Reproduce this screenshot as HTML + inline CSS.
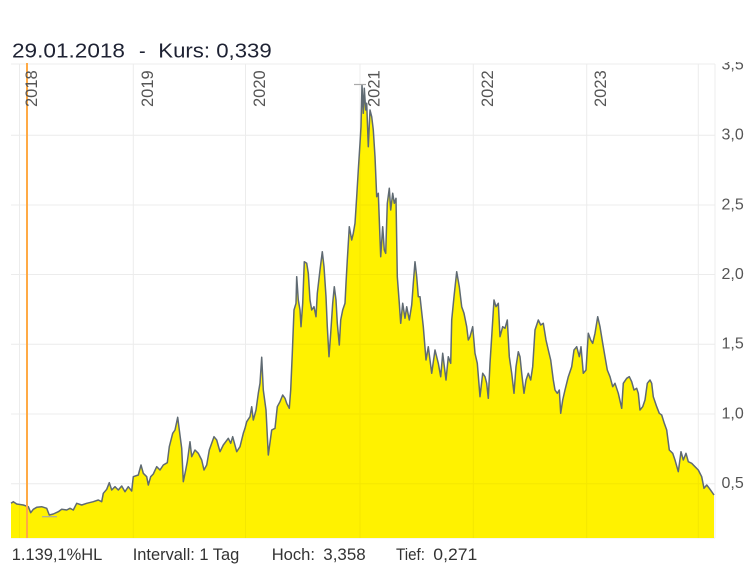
<!DOCTYPE html>
<html><head><meta charset="utf-8"><style>
html,body{margin:0;padding:0;background:#fff;}
svg{display:block;}
text{font-family:"Liberation Sans",sans-serif;}
</style></head><body>
<svg width="753" height="576" viewBox="0 0 753 576" xmlns="http://www.w3.org/2000/svg">
<defs>
<clipPath id="ylc"><rect x="700" y="62" width="53" height="500"/></clipPath>
<clipPath id="fillc"><path id="fp" d="M11,538 L11,503.3 13.3,501.7 16.7,504 23.3,505 28.3,506.7 30.7,512.7 33.3,509.3 36.7,507.3 41.7,506.7 46.7,508.3 49.3,515 53.3,514 58.3,511.7 61.7,509.3 66.7,510 70,508.3 73.3,510 76.7,503.3 81.7,505 86.7,503.3 93.3,501.7 98.3,500 101.7,501.7 103.3,493.3 106.7,489.3 109.3,482.7 111.7,490 115,486.7 118.3,490 121.7,486 125,491.7 128.3,486.7 131.7,491 133.3,476.7 138.3,475 141,465 143.3,473.3 146.7,476.7 148.3,485 150.7,476.7 153.3,474 156.7,466.7 160,470 163.3,465 167.3,462.7 169.3,446.7 172.7,433.3 175,430 177.7,417.3 179.3,430 181.7,448.3 183.3,481.7 185.7,470 187.3,461.7 190,441.7 191.7,456.7 195,450 198.3,453.3 201.7,460 204,470 206.7,465 209.3,450 214,436.7 216.7,440 220,451.7 223.3,445 228.3,438.3 230.7,443.3 232.7,436.7 236.7,451.7 240,446.7 243.3,433.3 245,428.3 246.7,421.7 250,416.7 251.7,406.7 253.3,420 256,410 258.3,393.3 260,383.3 261.7,357.3 263.3,390 266,410 268.3,455 271.7,430 275,428.3 277.3,406.7 280,401.7 282.7,395 285,398.3 286.7,403.3 289.3,408.3 290.7,390 292.3,353.3 294,310 296,303.3 296.7,276.7 298.3,300 300,310 301,326.7 302.7,303.3 304.3,261.7 306.7,263.3 308.3,273.3 310,300 311.7,310 314,306.7 316,316.7 317.3,293.3 320,270 322.3,251.7 324,266.7 326,296.7 327.3,326.7 329,356.7 330.7,333.3 332.7,303.3 334.3,286.7 336,300 337.3,323.3 339.3,345 340.7,320 342.7,310 345,303.3 346,283.3 347.3,260 349.3,226.7 351.7,240 353.3,233.3 355,223.3 356.7,196.7 358.3,170 360,143.3 361,126.7 362,85 363.3,113.3 364.3,88.3 365.7,110 366.7,103.3 368.3,146.7 370,110 371.7,116.7 373.3,130 375,156.7 376.7,196.7 378.3,193.3 379.3,220 380.7,256.7 382.7,226.7 384.3,250 385.7,253.3 387.3,203.3 389.3,188.3 390.7,210 392.7,193.3 394.3,203.3 396,198.3 397.3,276.7 399.3,303.3 400.7,323.3 402.7,303.3 405,318.3 406.7,306.7 409.3,320 411.7,305 413.3,283.3 415,261.7 416.7,276.7 418.3,296.7 420,296.7 423.3,326.7 426,360 428.3,346.7 431.7,373.3 435,350 438.3,363.3 440.7,376.7 442.7,353.3 446,380 448.3,356.7 450.7,363.3 451.7,320 454,296.7 456.7,271.7 459.3,286.7 461.7,306.7 464,313.3 466.7,326.7 468.3,340 470,336.7 472.7,326.7 475,353.3 477.3,363.3 480,396.7 482.7,373.3 485,376.7 486.7,383.3 488.3,398.3 490,363.3 491.7,336.7 494,300 496,306.7 498.3,303.3 500,336.7 502.7,326.7 505,328.3 507.3,320 509.3,356.7 511.7,373.3 514,393.3 516,366.7 518.3,351.7 520,356.7 521.7,373.3 524,393.3 526,380 528.3,373.3 530.7,380 532.7,366.7 535,330 538.3,320 540.7,325 543.3,323.3 546,340 548.3,350 550.7,360 553.3,380 555,390 557.3,393.3 559.3,390 560.7,413.3 562.7,400 565,390 568.3,376.7 571.7,366.7 574,350 576.7,346.7 579.3,356.7 581,346.7 583.3,373.3 586,370 588.3,333.3 590.7,340 592.7,343.3 595,333.3 597.7,316.7 600,326.7 602.7,343.3 605,356.7 607.3,370 610,376.7 612.7,386.7 615,383.3 618.3,393.3 621.7,408.3 623.3,383.3 626.7,378.3 629.3,376.7 631.7,381.7 634,390 636.7,388.3 638.3,393.3 640,410 642.7,406.7 645,400 647.3,383.3 650,380 651.7,383.3 653.3,396.7 656.7,406.7 659.3,413.3 661.7,415 664.3,423.3 666.7,430 669.3,450 672.7,453.3 675,460 678.3,471.7 681,451.7 683.3,460 686,453.3 688.3,461.7 691.7,463.3 695,466.7 698.3,470 701.7,476.7 704,488.3 706.7,485 709.3,488.3 711.7,491.7 714,495 L714,538 Z"/></clipPath>
</defs>
<rect width="753" height="576" fill="#fff"/>
<!-- title -->
<text x="12" y="57.3" font-size="20" fill="#1e2233" textLength="113" lengthAdjust="spacingAndGlyphs">29.01.2018</text>
<text x="139" y="57.3" font-size="20" fill="#1e2233">-</text>
<text x="158.3" y="57.3" font-size="20" fill="#1e2233" textLength="113.4" lengthAdjust="spacingAndGlyphs">Kurs: 0,339</text>
<!-- grid -->
<g stroke="#ececec" stroke-width="1" fill="none">
<line x1="11" y1="64" x2="715" y2="64"/>
<line x1="11" y1="135.3" x2="715" y2="135.3"/>
<line x1="11" y1="205" x2="715" y2="205"/>
<line x1="11" y1="274.5" x2="715" y2="274.5"/>
<line x1="11" y1="344.3" x2="715" y2="344.3"/>
<line x1="11" y1="414" x2="715" y2="414"/>
<line x1="11" y1="483.7" x2="715" y2="483.7"/>
<line x1="11" y1="538" x2="715" y2="538"/>
<line x1="19.5" y1="64" x2="19.5" y2="538"/>
<line x1="133.3" y1="64" x2="133.3" y2="538"/>
<line x1="245.5" y1="64" x2="245.5" y2="538"/>
<line x1="360" y1="64" x2="360" y2="538"/>
<line x1="473.3" y1="64" x2="473.3" y2="538"/>
<line x1="586.7" y1="64" x2="586.7" y2="538"/>
<line x1="698.3" y1="64" x2="698.3" y2="538"/>
<line x1="715" y1="64" x2="715" y2="538"/>
</g>
<!-- series fill -->
<rect x="0" y="0" width="753" height="576" fill="#fff200" clip-path="url(#fillc)"/>
<!-- faint gridlines over fill -->
<g stroke="#eee000" stroke-width="1" opacity="0.6" clip-path="url(#fillc)">
<line x1="11" y1="135.3" x2="715" y2="135.3"/>
<line x1="11" y1="205" x2="715" y2="205"/>
<line x1="11" y1="274.5" x2="715" y2="274.5"/>
<line x1="11" y1="344.3" x2="715" y2="344.3"/>
<line x1="11" y1="414" x2="715" y2="414"/>
<line x1="11" y1="483.7" x2="715" y2="483.7"/>
<line x1="19.5" y1="64" x2="19.5" y2="538"/>
<line x1="133.3" y1="64" x2="133.3" y2="538"/>
<line x1="245.5" y1="64" x2="245.5" y2="538"/>
<line x1="360" y1="64" x2="360" y2="538"/>
<line x1="473.3" y1="64" x2="473.3" y2="538"/>
<line x1="586.7" y1="64" x2="586.7" y2="538"/>
<line x1="698.3" y1="64" x2="698.3" y2="538"/>
</g>
<polyline fill="none" stroke="#5f6a72" stroke-width="1.5" stroke-linejoin="round" points="11,503.3 13.3,501.7 16.7,504 23.3,505 28.3,506.7 30.7,512.7 33.3,509.3 36.7,507.3 41.7,506.7 46.7,508.3 49.3,515 53.3,514 58.3,511.7 61.7,509.3 66.7,510 70,508.3 73.3,510 76.7,503.3 81.7,505 86.7,503.3 93.3,501.7 98.3,500 101.7,501.7 103.3,493.3 106.7,489.3 109.3,482.7 111.7,490 115,486.7 118.3,490 121.7,486 125,491.7 128.3,486.7 131.7,491 133.3,476.7 138.3,475 141,465 143.3,473.3 146.7,476.7 148.3,485 150.7,476.7 153.3,474 156.7,466.7 160,470 163.3,465 167.3,462.7 169.3,446.7 172.7,433.3 175,430 177.7,417.3 179.3,430 181.7,448.3 183.3,481.7 185.7,470 187.3,461.7 190,441.7 191.7,456.7 195,450 198.3,453.3 201.7,460 204,470 206.7,465 209.3,450 214,436.7 216.7,440 220,451.7 223.3,445 228.3,438.3 230.7,443.3 232.7,436.7 236.7,451.7 240,446.7 243.3,433.3 245,428.3 246.7,421.7 250,416.7 251.7,406.7 253.3,420 256,410 258.3,393.3 260,383.3 261.7,357.3 263.3,390 266,410 268.3,455 271.7,430 275,428.3 277.3,406.7 280,401.7 282.7,395 285,398.3 286.7,403.3 289.3,408.3 290.7,390 292.3,353.3 294,310 296,303.3 296.7,276.7 298.3,300 300,310 301,326.7 302.7,303.3 304.3,261.7 306.7,263.3 308.3,273.3 310,300 311.7,310 314,306.7 316,316.7 317.3,293.3 320,270 322.3,251.7 324,266.7 326,296.7 327.3,326.7 329,356.7 330.7,333.3 332.7,303.3 334.3,286.7 336,300 337.3,323.3 339.3,345 340.7,320 342.7,310 345,303.3 346,283.3 347.3,260 349.3,226.7 351.7,240 353.3,233.3 355,223.3 356.7,196.7 358.3,170 360,143.3 361,126.7 362,85 363.3,113.3 364.3,88.3 365.7,110 366.7,103.3 368.3,146.7 370,110 371.7,116.7 373.3,130 375,156.7 376.7,196.7 378.3,193.3 379.3,220 380.7,256.7 382.7,226.7 384.3,250 385.7,253.3 387.3,203.3 389.3,188.3 390.7,210 392.7,193.3 394.3,203.3 396,198.3 397.3,276.7 399.3,303.3 400.7,323.3 402.7,303.3 405,318.3 406.7,306.7 409.3,320 411.7,305 413.3,283.3 415,261.7 416.7,276.7 418.3,296.7 420,296.7 423.3,326.7 426,360 428.3,346.7 431.7,373.3 435,350 438.3,363.3 440.7,376.7 442.7,353.3 446,380 448.3,356.7 450.7,363.3 451.7,320 454,296.7 456.7,271.7 459.3,286.7 461.7,306.7 464,313.3 466.7,326.7 468.3,340 470,336.7 472.7,326.7 475,353.3 477.3,363.3 480,396.7 482.7,373.3 485,376.7 486.7,383.3 488.3,398.3 490,363.3 491.7,336.7 494,300 496,306.7 498.3,303.3 500,336.7 502.7,326.7 505,328.3 507.3,320 509.3,356.7 511.7,373.3 514,393.3 516,366.7 518.3,351.7 520,356.7 521.7,373.3 524,393.3 526,380 528.3,373.3 530.7,380 532.7,366.7 535,330 538.3,320 540.7,325 543.3,323.3 546,340 548.3,350 550.7,360 553.3,380 555,390 557.3,393.3 559.3,390 560.7,413.3 562.7,400 565,390 568.3,376.7 571.7,366.7 574,350 576.7,346.7 579.3,356.7 581,346.7 583.3,373.3 586,370 588.3,333.3 590.7,340 592.7,343.3 595,333.3 597.7,316.7 600,326.7 602.7,343.3 605,356.7 607.3,370 610,376.7 612.7,386.7 615,383.3 618.3,393.3 621.7,408.3 623.3,383.3 626.7,378.3 629.3,376.7 631.7,381.7 634,390 636.7,388.3 638.3,393.3 640,410 642.7,406.7 645,400 647.3,383.3 650,380 651.7,383.3 653.3,396.7 656.7,406.7 659.3,413.3 661.7,415 664.3,423.3 666.7,430 669.3,450 672.7,453.3 675,460 678.3,471.7 681,451.7 683.3,460 686,453.3 688.3,461.7 691.7,463.3 695,466.7 698.3,470 701.7,476.7 704,488.3 706.7,485 709.3,488.3 711.7,491.7 714,495"/>
<!-- high/low markers -->
<line x1="354" y1="84.5" x2="366" y2="84.5" stroke="#aaaaaa" stroke-width="1.2"/>
<line x1="42" y1="516.7" x2="57" y2="516.7" stroke="#aaaaaa" stroke-width="1.2"/>
<!-- crosshair -->
<line x1="27" y1="63" x2="27" y2="538" stroke="#ffaa45" stroke-width="2"/>
<!-- year labels -->
<g font-size="16.5" fill="#555">
<text transform="translate(37,107) rotate(-90)">2018</text>
<text transform="translate(153,107) rotate(-90)">2019</text>
<text transform="translate(265,107) rotate(-90)">2020</text>
<text transform="translate(379.5,107) rotate(-90)">2021</text>
<text transform="translate(493,107) rotate(-90)">2022</text>
<text transform="translate(606,107) rotate(-90)">2023</text>
</g>
<!-- y labels -->
<g font-size="16" fill="#555" clip-path="url(#ylc)">
<text x="721.5" y="69.5">3,5</text>
<text x="721.5" y="139.5">3,0</text>
<text x="721.5" y="209.3">2,5</text>
<text x="721.5" y="278.8">2,0</text>
<text x="721.5" y="348.6">1,5</text>
<text x="721.5" y="418.3">1,0</text>
<text x="721.5" y="488">0,5</text>
</g>
<!-- footer -->
<g font-size="17" fill="#333">
<text x="11.7" y="560" textLength="90.6" lengthAdjust="spacingAndGlyphs">1.139,1%HL</text>
<text x="132.7" y="560" textLength="106.6" lengthAdjust="spacingAndGlyphs">Intervall: 1 Tag</text>
<text x="271.7" y="560" textLength="43.3" lengthAdjust="spacingAndGlyphs">Hoch:</text>
<text x="323.3" y="560" textLength="42.4" lengthAdjust="spacingAndGlyphs">3,358</text>
<text x="396" y="560" textLength="29" lengthAdjust="spacingAndGlyphs">Tief:</text>
<text x="433.3" y="560" textLength="44" lengthAdjust="spacingAndGlyphs">0,271</text>
</g>
</svg>
</body></html>
